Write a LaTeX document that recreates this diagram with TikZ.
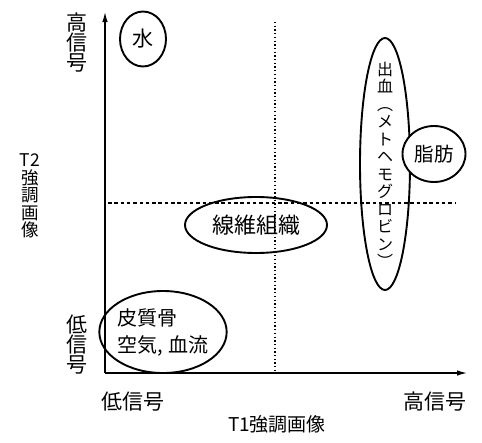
\documentclass[tikz,border=0pt]{standalone}
\usepackage{fontspec}
\newfontfamily\jp{Noto Sans CJK JP}
\usetikzlibrary{shapes.geometric,arrows.meta}
\tikzset{
  axis/.style={line width=1.3pt,-{Latex[length=10pt,width=5.5pt]}},
  ell/.style={ellipse,draw,line width=1.9pt,inner sep=0pt},
  lbl/.style={font=\jp\fontsize{21}{21}\selectfont,inner sep=0pt},
  vlbl/.style={font=\jp\fontsize{21}{20}\selectfont,inner sep=0pt,align=center},
  small/.style={font=\jp\fontsize{17.5}{17.5}\selectfont,inner sep=0pt,align=center},
  guide/.style={line width=1.3pt}
}
\begin{document}
\begin{tikzpicture}[x=1pt,y=-1pt]
\useasboundingbox (0,0) rectangle (482,442);
% axes
\coordinate (O) at (105,373);
\coordinate (Ytip) at (105,12);
\coordinate (Xtip) at (467,373);
\coordinate (vt) at (275,22);
\coordinate (vb) at (275,373);
\coordinate (hl) at (108,203);
\coordinate (hr) at (455,203);
\draw[guide,dash pattern=on 1.3pt off 2.4pt] (vt) -- (vb);
\draw[guide,dash pattern=on 3.5pt off 2.8pt] (hl) -- (hr);
\draw[axis] (O) -- (Ytip);
\draw[axis] (O) -- (Xtip);
% axis labels
\node[vlbl] (yhigh) at (77,43) {高\\信\\号};
\node[vlbl] (ylow) at (77,345) {低\\信\\号};
\node[lbl] (xlow) at (133,402) {低信号};
\node[lbl] (xhigh) at (435,402) {高信号};
\node[lbl,font=\jp\fontsize{19}{19}\selectfont] (xtitle) at (277,424) {T1強調画像};
\node[small] (ytitle) at (30,196) {T2\\強\\調\\画\\像};
% ellipses
\node[ell,minimum width=46pt,minimum height=55pt,font=\jp\fontsize{21}{21}\selectfont] (water) at (143,39) {水};
\node[ell,minimum width=50pt,minimum height=252pt] (blood) at (385,164) {};
\node[inner sep=0pt,align=center,font=\jp\fontsize{16}{17.5}\selectfont] (bloodtxt) at (385,165) {出\\血\\︵\\メ\\ト\\ヘ\\モ\\グ\\ロ\\ビ\\ン\\︶};
\node[ell,minimum width=63pt,minimum height=56pt,font=\jp\fontsize{19.5}{20}\selectfont,fill=white] (fat) at (434,154) {脂肪};
\node[ell,minimum width=142pt,minimum height=56pt,font=\jp\fontsize{22}{22}\selectfont] (fiber) at (256,225) {線維組織};
\node[ell,minimum width=115pt,minimum height=82pt,align=left,font=\jp\fontsize{20}{27}\selectfont] (bone) at (163,332) {皮質骨\\空気, 血流};
\end{tikzpicture}
\end{document}
